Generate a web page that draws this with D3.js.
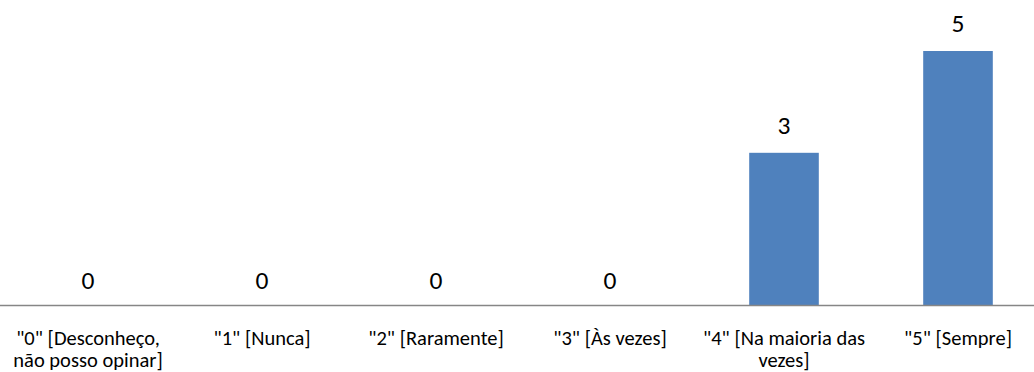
<!DOCTYPE html>
<html>
<head>
<meta charset="utf-8">
<script src="https://cdn.jsdelivr.net/npm/d3@7"></script>
<style>
  html, body { margin: 0; padding: 0; background: #fff; }
  svg { display: block; }
  text { font-family: Carlito, Calibri, Lato, "Liberation Sans", sans-serif; fill: #000; }
</style>
</head>
<body>
<svg id="chart" width="1034" height="372"></svg>
<script>
const categories = [
  "\"0\" [Desconheço,\nnão posso opinar]",
  "\"1\" [Nunca]",
  "\"2\" [Raramente]",
  "\"3\" [Às vezes]",
  "\"4\" [Na maioria das\nvezes]",
  "\"5\" [Sempre]"
];
const values = [0, 0, 0, 0, 3, 5];

const svg = d3.select("#chart");
const baseline = 305.5;
const plotTop = 51;

const x = d3.scaleBand()
  .domain(categories)
  .range([1, 1045])
  .paddingInner(0.6)
  .paddingOuter(0.3);

const y = d3.scaleLinear()
  .domain([0, 5])
  .range([baseline, plotTop]);

// bars
svg.append("g").selectAll("rect")
  .data(values)
  .join("rect")
  .attr("x", (d, i) => x(categories[i]))
  .attr("y", d => y(d))
  .attr("width", x.bandwidth())
  .attr("height", d => baseline - y(d))
  .attr("fill", "#4f81bd");

// value labels
svg.append("g").selectAll("text")
  .data(values)
  .join("text")
  .attr("x", (d, i) => x(categories[i]) + x.bandwidth() / 2)
  .attr("y", d => y(d) - (d === 0 ? 16.5 : 19))
  .attr("text-anchor", "middle")
  .style("font-size", "25.5px")
  .text(d => d);

// axis
const axis = d3.axisBottom(x).tickSize(0).tickPadding(0).tickFormat("");
const gAxis = svg.append("g")
  .attr("transform", `translate(0,${baseline})`)
  .call(axis);
gAxis.select(".domain").remove();
gAxis.append("line")
  .attr("x1", 0).attr("x2", 1034)
  .attr("y1", 0).attr("y2", 0)
  .attr("stroke", "#868686")
  .attr("stroke-width", 1.3);

gAxis.selectAll(".tick").each(function(d) {
  const lines = d.split("\n");
  const t = d3.select(this).append("text")
    .attr("text-anchor", "middle")
    .style("font-size", "20.5px");
  lines.forEach((ln, i) => {
    t.append("tspan").attr("x", 0).attr("y", 39.5 + i * 21.7).text(ln);
  });
});
</script>
</body>
</html>
